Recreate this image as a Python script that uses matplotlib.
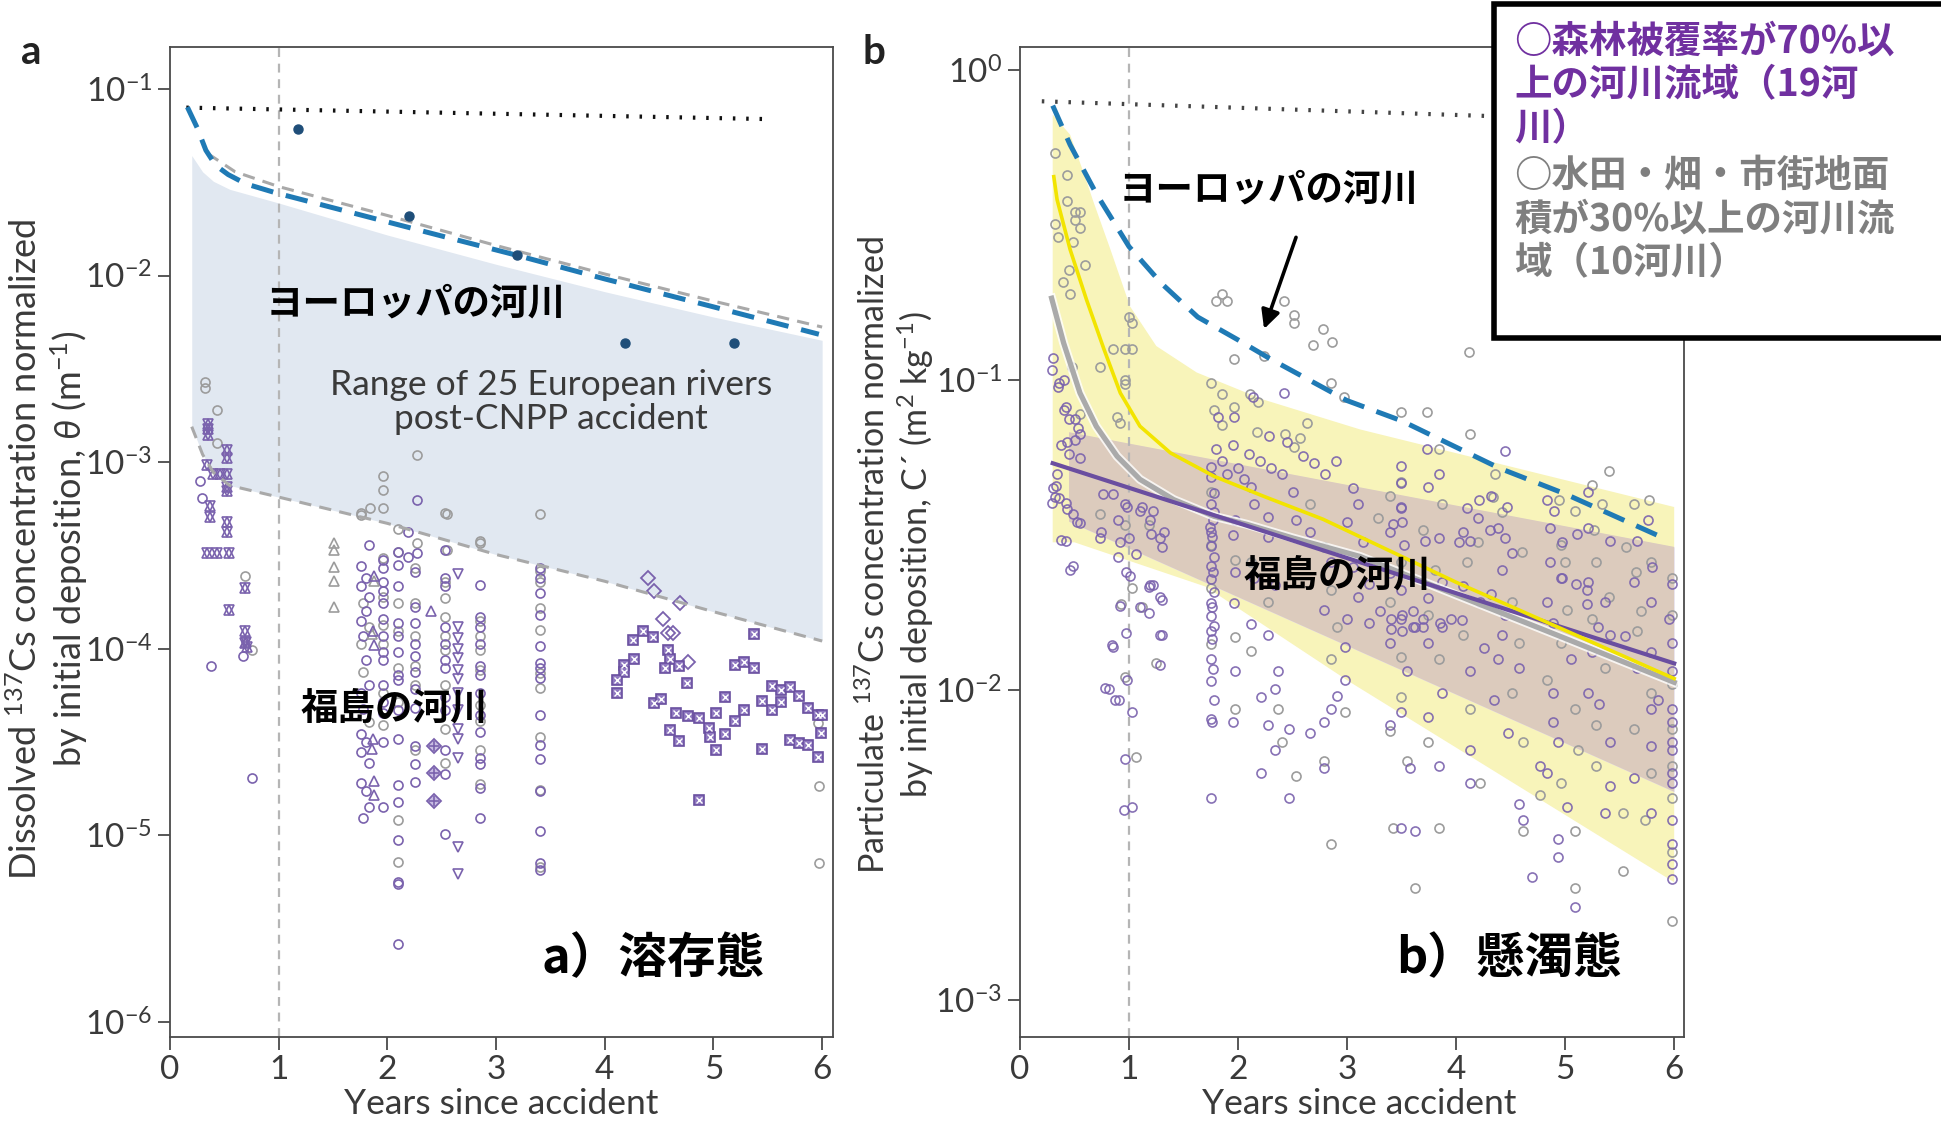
import numpy as np
import matplotlib.pyplot as plt
from matplotlib import font_manager
from matplotlib.patches import Rectangle
from matplotlib.ticker import NullLocator

names = {f.name for f in font_manager.fontManager.ttflist}
LAT = 'Lato' if 'Lato' in names else 'DejaVu Sans'
JP = ['Noto Sans CJK JP', 'DejaVu Sans']
plt.rcParams['font.family'] = [LAT, 'DejaVu Sans']
plt.rcParams['mathtext.fontset'] = 'custom'
plt.rcParams['mathtext.rm'] = LAT
plt.rcParams['mathtext.it'] = LAT + ':italic'

# ---------------- panel a data ----------------
a_fill_x = [0.2, 0.3, 0.4, 0.55, 1.0, 2.0, 3.0, 4.0, 5.0, 6.0]
a_fill_hi = [0.044, 0.036, 0.032, 0.029, 0.0245, 0.0165, 0.0115, 0.0082, 0.006, 0.0045]
a_fill_lo = [0.00155, 0.0011, 0.00088, 0.00075, 0.00065, 0.00047, 0.00032, 0.00023, 0.000158, 0.00011]
a_gray_top_x = [0.35, 0.6, 1.0, 2.0, 3.0, 4.0, 5.0, 6.0]
a_gray_top_y = [0.045, 0.036, 0.030, 0.021, 0.0145, 0.0102, 0.0073, 0.0053]
a_blue_x = [0.16, 0.25, 0.33, 0.42, 0.535, 0.7, 0.98, 1.5, 2.0, 2.5, 3.18, 4.0, 5.0, 5.97]
a_blue_y = [0.080, 0.062, 0.047, 0.039, 0.0348, 0.031, 0.0277, 0.0231, 0.0194, 0.0163, 0.0129, 0.0096, 0.0068, 0.00485]
a_dot_x = [0.15, 5.5]
a_dot_y = [0.0795, 0.069]
a_blue_pts_x = [1.18, 2.2, 3.19, 4.19, 5.19]
a_blue_pts_y = [0.0613, 0.0208, 0.0129, 0.00436, 0.00436]

a_circle_purple = [
    (0.28, 0.00079), (0.29, 0.00064), (0.67, 0.000091), (0.38, 0.000081), (0.75, 0.0000204),
    (2.27, 0.00063), (2.19, 0.000425), (1.83, 0.00036), (2.10, 0.00033), (2.27, 0.000325), (1.96, 0.00030), (2.19, 0.00031),
    (1.76, 0.000278), (1.80, 0.000239), (1.76, 0.000216), (1.83, 0.00019), (1.80, 0.000159), (1.76, 0.00014),
    (1.78, 0.000117), (1.80, 0.0000869), (1.83, 0.0000641), (1.76, 0.0000579), (1.78, 0.0000473), (1.76, 0.0000349),
    (1.80, 0.0000316), (1.76, 0.0000278), (1.83, 0.0000245), (1.76, 0.000019), (1.80, 0.0000172), (1.83, 0.0000141),
    (1.78, 0.0000124),
    (1.96, 0.000271), (1.96, 0.000227), (1.96, 0.000205), (1.96, 0.000176), (1.96, 0.000144), (1.96, 0.000117),
    (1.96, 0.000096), (1.96, 0.000087), (1.96, 0.000064), (1.96, 0.000052), (1.96, 0.000045), (1.96, 0.0000316),
    (1.96, 0.0000141),
    (2.10, 0.00028), (2.10, 0.000216), (2.10, 0.000137), (2.10, 0.000117), (2.10, 0.000096), (2.10, 0.000072),
    (2.10, 0.000068), (2.10, 0.000047), (2.10, 0.000033), (2.10, 0.0000185), (2.10, 0.0000151), (2.10, 0.0000094),
    (2.10, 0.0000056), (2.10, 0.0000055), (2.10, 0.0000026),
    (2.25, 0.000258), (2.25, 0.000168), (2.25, 0.000137), (2.25, 0.000106), (2.25, 0.000091), (2.25, 0.000075),
    (2.25, 0.000061), (2.25, 0.000048), (2.25, 0.00003), (2.25, 0.0000241), (2.25, 0.0000193),
    (2.53, 0.00034), (2.53, 0.000239), (2.53, 0.000216), (2.53, 0.00013), (2.53, 0.000106), (2.53, 0.000087),
    (2.53, 0.000079), (2.53, 0.000055), (2.53, 0.000047), (2.53, 0.0000287), (2.53, 0.0000212), (2.53, 0.0000102),
    (2.85, 0.000221), (2.85, 0.000148), (2.85, 0.00013), (2.85, 0.000106), (2.85, 0.000081), (2.85, 0.000072),
    (2.85, 0.000058), (2.85, 0.000044), (2.85, 0.000036), (2.85, 0.000026), (2.85, 0.0000241), (2.85, 0.0000179),
    (2.85, 0.0000124),
    (3.40, 0.00027), (3.40, 0.000239), (3.40, 0.000199), (3.40, 0.000152), (3.40, 0.000103), (3.40, 0.0000838),
    (3.40, 0.0000787), (3.40, 0.0000695), (3.40, 0.0000443), (3.40, 0.0000305), (3.40, 0.0000256), (3.40, 0.0000172),
    (3.40, 0.0000106), (3.40, 0.0000071), (3.40, 0.0000065),
    (5.96, 0.0000443),
]
a_circle_gray = [
    (0.32, 0.0027), (0.32, 0.0025), (0.43, 0.0019), (0.43, 0.00127), (0.69, 0.000244), (0.75, 0.0000986),
    (1.96, 0.00084), (1.96, 0.00071), (1.96, 0.00057), (1.84, 0.00057), (1.76, 0.00052), (2.27, 0.00109),
    (2.55, 0.00053), (2.27, 0.00037), (2.85, 0.000376), (2.55, 0.00034), (2.10, 0.00044),
    (1.76, 0.000536), (1.78, 0.000176), (1.83, 0.00013), (1.76, 0.000106), (1.78, 0.0000746), (1.83, 0.0000407),
    (1.96, 0.000308), (1.96, 0.00019), (1.96, 0.000134), (1.96, 0.000106), (1.96, 0.000058), (1.96, 0.000039),
    (2.10, 0.000331), (2.10, 0.000176), (2.10, 0.000124), (2.10, 0.000079), (2.10, 0.000052), (2.10, 0.0000121),
    (2.10, 0.0000072),
    (2.25, 0.000271), (2.25, 0.000176), (2.25, 0.000117), (2.25, 0.000081), (2.25, 0.000064), (2.25, 0.0000287),
    (2.53, 0.000536), (2.53, 0.000227), (2.53, 0.000186), (2.53, 0.000148), (2.53, 0.000117), (2.53, 0.000098),
    (2.53, 0.000064), (2.53, 0.000037), (2.53, 0.0000245),
    (2.85, 0.000369), (2.85, 0.000141), (2.85, 0.000117), (2.85, 0.000098), (2.85, 0.000077), (2.85, 0.00005),
    (2.85, 0.000041), (2.85, 0.0000287), (2.85, 0.0000188),
    (3.40, 0.000528), (3.40, 0.00026), (3.40, 0.000229), (3.40, 0.000165), (3.40, 0.000126), (3.40, 0.000074),
    (3.40, 0.0000615), (3.40, 0.0000336), (3.40, 0.0000175), (3.40, 0.0000068),
    (5.97, 0.0000184), (5.97, 0.0000071), (5.96, 0.000040),
]
a_hexagram = [
    (0.35, 0.0016), (0.35, 0.0015), (0.35, 0.0014), (0.52, 0.00116), (0.52, 0.00105), (0.34, 0.00097),
    (0.40, 0.00086), (0.46, 0.00086), (0.52, 0.00086), (0.52, 0.00074), (0.52, 0.0007), (0.37, 0.00058),
    (0.37, 0.00051), (0.52, 0.00048), (0.52, 0.00042), (0.34, 0.000325), (0.43, 0.000325), (0.54, 0.000325),
    (0.69, 0.000211), (0.54, 0.000161), (0.69, 0.000124), (0.69, 0.000107), (0.71, 0.000102), (0.70, 0.000109),
]
a_tri_up_gray = [(1.51, 0.00037), (1.51, 0.00034), (1.51, 0.000275), (1.51, 0.00023), (1.51, 0.000168),
                 (1.88, 0.00023), (1.86, 0.00012)]
a_tri_up_purple = [(1.88, 0.000245), (1.87, 0.000125), (1.88, 0.000105), (1.87, 0.000033), (1.86, 0.000029),
                   (1.88, 0.0000195), (1.88, 0.0000165), (2.40, 0.00016)]
a_tri_down = [(2.65, 0.000251), (2.65, 0.00013), (2.65, 0.000114), (2.65, 0.0001), (2.65, 0.000089),
              (2.65, 0.000077), (2.65, 0.000069), (2.65, 0.000058), (2.65, 0.000047), (2.65, 0.000037),
              (2.65, 0.000033), (2.65, 0.000026), (2.65, 0.0000087), (2.65, 0.0000062)]
a_diamond_open = [(4.40, 0.000239), (4.45, 0.000203), (4.69, 0.000175), (4.54, 0.000144), (4.58, 0.000121),
                  (4.63, 0.000121), (4.77, 0.0000847)]
a_diamond_cross = [(2.43, 0.0000303), (2.43, 0.0000216), (2.43, 0.0000152)]
a_box = [
    (4.35, 0.000125), (4.26, 0.000112), (4.44, 0.000116), (4.27, 0.0000879), (4.18, 0.000082), (4.18, 0.0000746),
    (4.11, 0.0000681), (4.11, 0.0000582), (4.58, 0.000098), (4.60, 0.0000879), (4.55, 0.0000787), (4.68, 0.0000809),
    (4.76, 0.0000659), (4.45, 0.0000511), (4.52, 0.0000537), (4.66, 0.0000452), (4.77, 0.0000437), (4.87, 0.0000425),
    (4.96, 0.0000375), (4.97, 0.0000336), (4.60, 0.0000367), (4.68, 0.0000322), (5.02, 0.0000287), (5.02, 0.0000452),
    (5.11, 0.000055), (5.11, 0.0000348), (5.20, 0.0000411), (5.28, 0.0000471), (5.20, 0.000082), (5.28, 0.0000847),
    (5.37, 0.0000793), (5.37, 0.00012), (5.45, 0.0000526), (5.54, 0.0000632), (5.62, 0.0000603), (5.70, 0.0000622),
    (5.79, 0.000056), (5.54, 0.0000467), (5.62, 0.0000518), (5.45, 0.000029), (5.70, 0.0000325), (5.79, 0.0000312),
    (5.87, 0.0000305), (5.87, 0.0000481), (5.96, 0.0000443), (6.00, 0.0000443), (5.99, 0.0000353), (5.96, 0.0000262),
    (4.87, 0.0000155),
]

# ---------------- panel b data ----------------
b_dot_x = [0.2, 5.5]
b_dot_y = [0.795, 0.69]
b_blue_x = [0.3, 0.46, 0.7, 1.0, 1.3, 1.63, 2.0, 2.3, 3.0, 3.5, 4.4, 5.0, 5.9]
b_blue_y = [0.77, 0.575, 0.40, 0.27, 0.205, 0.16, 0.135, 0.117, 0.086, 0.074, 0.052, 0.043, 0.031]
b_yellow_x = [0.31, 0.34, 0.46, 0.61, 0.77, 0.92, 1.1, 1.38, 1.78, 2.23, 2.78, 3.36, 4.0, 5.0, 6.0]
b_yellow_y = [0.454, 0.383, 0.264, 0.182, 0.126, 0.091, 0.0711, 0.0583, 0.049, 0.0423, 0.0356, 0.0285, 0.0223, 0.0156, 0.0109]
b_grayfit_x = [0.29, 0.4, 0.55, 0.7, 0.89, 1.1, 1.41, 1.78, 2.08, 2.5, 3.12, 4.0, 5.0, 6.0]
b_grayfit_y = [0.184, 0.132, 0.091, 0.071, 0.0569, 0.0479, 0.0412, 0.0364, 0.0343, 0.031, 0.027, 0.0203, 0.0147, 0.0106]
b_purplefit_x = [0.3, 6.0]
b_purplefit_y = [0.054, 0.0122]
b_yband_hi_x = [0.3, 0.46, 0.6, 0.67, 0.83, 1.01, 1.25, 1.62, 2.23, 3.12, 6.0]
b_yband_hi_y = [0.72, 0.62, 0.45, 0.38, 0.264, 0.173, 0.129, 0.106, 0.0867, 0.0694, 0.039]
b_yband_lo_x = [0.3, 0.5, 1.7, 3.03, 6.0]
b_yband_lo_y = [0.03, 0.03, 0.0216, 0.0106, 0.0024]
b_pband_x = [0.45, 6.0]
b_pband_hi = [0.068, 0.029]
b_pband_lo = [0.035, 0.0047]

b_gray = [
    (0.32, 0.54), (0.43, 0.46), (0.43, 0.38), (0.50, 0.35), (0.55, 0.35), (0.50, 0.33), (0.55, 0.31), (0.32, 0.32),
    (0.35, 0.29), (0.49, 0.28), (0.60, 0.236), (0.45, 0.227), (0.39, 0.208), (0.46, 0.19), (1.03, 0.153), (1.00, 0.16),
    (0.85, 0.126), (0.96, 0.126), (1.03, 0.126), (0.73, 0.11), (0.48, 0.11), (0.96, 0.10), (0.96, 0.097), (0.89, 0.076),
    (0.92, 0.073), (0.55, 0.078),
    (1.80, 0.18), (1.90, 0.18), (1.85, 0.19), (1.96, 0.117), (1.75, 0.098), (1.85, 0.09), (1.96, 0.082), (1.78, 0.08),
    (1.85, 0.072), (2.11, 0.09), (2.18, 0.085), (2.42, 0.18), (2.51, 0.163), (2.51, 0.153), (2.78, 0.146), (2.69, 0.13),
    (2.86, 0.133), (2.63, 0.073), (2.24, 0.12), (2.85, 0.098), (2.97, 0.088), (2.17, 0.068), (2.43, 0.067), (2.57, 0.065),
    (2.51, 0.061),
    (4.12, 0.123), (3.49, 0.079), (3.73, 0.079), (4.13, 0.067), (3.84, 0.06), (3.49, 0.047), (4.36, 0.05), (4.34, 0.042),
    (5.40, 0.051), (5.25, 0.046), (5.77, 0.041), (4.94, 0.041), (5.09, 0.038), (3.28, 0.036), (3.70, 0.033), (4.20, 0.030),
    (4.60, 0.028), (5.26, 0.033), (5.56, 0.029), (5.00, 0.026), (5.65, 0.024), (5.98, 0.023), (5.40, 0.020), (5.70, 0.018),
    (0.73, 0.037), (0.96, 0.034), (1.18, 0.034), (1.03, 0.0214), (0.93, 0.019), (1.12, 0.0186), (1.25, 0.0122),
    (0.96, 0.011), (1.06, 0.0061),
    (1.75, 0.0437), (1.75, 0.0295), (1.75, 0.0214), (1.75, 0.0141), (1.97, 0.0263), (1.97, 0.0148), (1.97, 0.0087),
    (2.12, 0.026), (2.27, 0.0192), (2.12, 0.0134), (2.37, 0.0087), (2.40, 0.0068), (2.53, 0.0053), (2.66, 0.040),
    (2.79, 0.0289), (2.85, 0.021), (2.91, 0.016), (2.85, 0.0126), (2.98, 0.0085), (2.79, 0.0059), (2.85, 0.0032),
    (3.39, 0.0424), (3.49, 0.026), (3.39, 0.0192), (3.49, 0.0128), (3.49, 0.0095), (3.39, 0.0074), (3.55, 0.0059),
    (3.62, 0.0023), (3.42, 0.0036),
    (3.87, 0.040), (3.81, 0.0245), (3.74, 0.0175), (3.84, 0.0126), (3.74, 0.0068), (3.84, 0.0036),
    (4.10, 0.026), (4.06, 0.0151), (4.13, 0.0087), (4.22, 0.0050),
    (4.42, 0.0375), (4.51, 0.0192), (4.58, 0.0142), (4.51, 0.0098), (4.61, 0.0068), (4.77, 0.0046), (4.61, 0.0035),
    (4.96, 0.0294), (5.02, 0.0181), (4.96, 0.0142), (4.83, 0.0108), (5.09, 0.0087), (5.12, 0.0064), (4.96, 0.0050),
    (5.09, 0.0035), (5.09, 0.0023),
    (5.34, 0.040), (5.28, 0.026), (5.25, 0.017), (5.37, 0.0118), (5.28, 0.0077), (5.28, 0.0057), (5.53, 0.0040),
    (5.63, 0.040), (5.79, 0.026), (5.66, 0.0155), (5.79, 0.0098), (5.63, 0.0075), (5.79, 0.0054), (5.73, 0.0038),
    (5.53, 0.0026),
    (5.98, 0.0175), (5.98, 0.0105), (5.98, 0.0075), (5.98, 0.0057), (5.98, 0.0045), (5.98, 0.0030), (5.98, 0.0018),
]
b_purple = [
    (0.30, 0.118), (0.29, 0.108), (0.36, 0.098), (0.40, 0.100), (0.35, 0.095), (0.42, 0.082), (0.40, 0.080),
    (0.45, 0.075), (0.50, 0.075), (0.55, 0.067), (0.53, 0.070), (0.38, 0.062), (0.43, 0.063), (0.50, 0.064),
    (0.45, 0.058), (0.55, 0.056), (0.34, 0.0497), (0.30, 0.045), (0.32, 0.042), (0.29, 0.0403), (0.42, 0.0403),
    (0.43, 0.0383), (0.49, 0.037), (0.52, 0.0348), (0.38, 0.0306), (0.46, 0.0245), (0.33, 0.0457), (0.36, 0.0417),
    (0.55, 0.0347), (0.42, 0.0302), (0.49, 0.0251),
    (0.73, 0.031), (0.76, 0.043), (0.85, 0.043), (0.96, 0.040), (0.98, 0.039), (1.10, 0.038), (1.22, 0.038),
    (1.28, 0.031), (1.20, 0.032), (1.30, 0.029), (0.92, 0.030), (1.00, 0.031), (0.74, 0.0324), (0.90, 0.0355),
    (1.12, 0.0389), (1.19, 0.0355), (1.32, 0.0324), (1.06, 0.0275), (0.90, 0.0269), (0.97, 0.024), (1.19, 0.0219),
    (1.28, 0.020), (1.01, 0.0233), (1.18, 0.0216), (1.22, 0.0219), (1.30, 0.0196), (0.92, 0.0187), (1.10, 0.0185),
    (1.18, 0.0178), (0.97, 0.0153), (1.30, 0.0151), (0.85, 0.0138), (0.84, 0.014), (1.28, 0.0151), (1.28, 0.0121),
    (0.98, 0.0108), (0.82, 0.0101), (0.78, 0.0102), (0.87, 0.0093), (0.91, 0.0093), (1.03, 0.0085), (0.96, 0.006),
    (1.03, 0.0042), (0.95, 0.0041),
    (1.75, 0.0527), (1.75, 0.0489), (1.78, 0.0434), (1.75, 0.040), (1.77, 0.0355), (1.75, 0.0324), (1.78, 0.0375),
    (1.74, 0.0337), (1.76, 0.0313), (1.75, 0.0291), (1.78, 0.0269), (1.75, 0.0251), (1.77, 0.024), (1.75, 0.0229),
    (1.78, 0.0208), (1.75, 0.0191), (1.76, 0.0186), (1.75, 0.0174), (1.78, 0.0161), (1.75, 0.0155), (1.76, 0.0146),
    (1.75, 0.0126), (1.77, 0.0117), (1.75, 0.0107), (1.78, 0.0093), (1.75, 0.0081), (1.76, 0.0079), (1.75, 0.0045),
    (1.97, 0.0355), (1.95, 0.0316), (1.97, 0.024), (1.96, 0.0191), (1.97, 0.0115), (1.95, 0.0079),
    (1.80, 0.060), (1.85, 0.055), (1.90, 0.050), (2.05, 0.048), (1.95, 0.062), (2.10, 0.058), (2.20, 0.055),
    (2.30, 0.052), (2.40, 0.050), (2.60, 0.057), (2.70, 0.054), (2.80, 0.050), (2.90, 0.055), (2.00, 0.052),
    (2.14, 0.088), (2.42, 0.091), (2.28, 0.066), (2.45, 0.063), (1.96, 0.076), (1.82, 0.076),
    (2.12, 0.0451), (2.15, 0.040), (2.27, 0.0363), (2.27, 0.0313), (2.15, 0.0231), (2.34, 0.0218), (2.27, 0.0151),
    (2.12, 0.0163), (2.37, 0.0115), (2.34, 0.0101), (2.21, 0.0095), (2.27, 0.0077), (2.47, 0.0075), (2.34, 0.0064),
    (2.21, 0.0054), (2.47, 0.0045),
    (2.50, 0.0437), (2.53, 0.0353), (2.66, 0.0323), (2.85, 0.026), (2.79, 0.0181), (2.98, 0.0138), (2.98, 0.0108),
    (2.91, 0.0096), (2.85, 0.0087), (2.79, 0.0079), (2.66, 0.0073), (2.79, 0.0056),
    (3.05, 0.045), (3.10, 0.040), (3.00, 0.035), (3.15, 0.030), (3.05, 0.025), (3.20, 0.022), (3.10, 0.020),
    (3.00, 0.017), (3.49, 0.0465), (3.49, 0.0387), (3.42, 0.0343), (3.39, 0.0323), (3.52, 0.0294), (3.39, 0.0238),
    (3.49, 0.021), (3.49, 0.017), (3.62, 0.016), (3.39, 0.0142), (3.55, 0.0115), (3.49, 0.0085), (3.39, 0.0077),
    (3.58, 0.0056), (3.49, 0.0036), (3.62, 0.0035), (3.49, 0.053), (3.50, 0.035), (3.49, 0.039),
    (3.30, 0.018), (3.40, 0.017), (3.50, 0.0175), (3.60, 0.018), (3.70, 0.017), (3.60, 0.0160), (3.40, 0.0158),
    (3.50, 0.0155), (3.70, 0.016), (3.20, 0.0165), (3.85, 0.0165), (3.95, 0.017), (4.05, 0.0168),
    (3.74, 0.0451), (3.73, 0.060), (3.84, 0.050), (3.71, 0.0303), (3.84, 0.031), (3.87, 0.0224), (3.74, 0.0198),
    (3.87, 0.016), (3.74, 0.0142), (3.87, 0.0098), (3.74, 0.0082), (3.84, 0.0057), (4.03, 0.030),
    (4.10, 0.0387), (4.06, 0.0323), (4.13, 0.0303), (4.06, 0.0217), (4.22, 0.0192), (4.26, 0.0137), (4.13, 0.0115),
    (4.13, 0.0064), (4.13, 0.0050), (4.21, 0.041), (4.20, 0.036),
    (4.32, 0.0424), (4.38, 0.0333), (4.51, 0.0277), (4.42, 0.0245), (4.32, 0.0204), (4.45, 0.0175), (4.42, 0.0151),
    (4.38, 0.0126), (4.58, 0.0118), (4.35, 0.0093), (4.48, 0.0073), (4.77, 0.0057), (4.58, 0.0043), (4.61, 0.0038),
    (4.70, 0.0025), (4.45, 0.059), (4.47, 0.039), (4.31, 0.033), (4.45, 0.031),
    (4.83, 0.0411), (4.86, 0.0333), (4.86, 0.026), (4.96, 0.0231), (4.83, 0.0192), (4.89, 0.0165), (5.05, 0.0126),
    (4.89, 0.0098), (4.89, 0.0079), (4.93, 0.0068), (4.83, 0.0054), (5.02, 0.0042), (4.93, 0.0033), (4.93, 0.0029),
    (5.09, 0.0020), (4.90, 0.038), (4.97, 0.030), (5.11, 0.032), (4.97, 0.023), (5.10, 0.022),
    (5.21, 0.0437), (5.21, 0.0333), (5.41, 0.0303), (5.21, 0.0224), (5.37, 0.0192), (5.41, 0.0151), (5.25, 0.0133),
    (5.21, 0.0098), (5.31, 0.0090), (5.41, 0.0068), (5.41, 0.0049), (5.37, 0.0040), (5.20, 0.021), (5.20, 0.019),
    (5.30, 0.016), (5.55, 0.015),
    (5.76, 0.0353), (5.66, 0.0303), (5.63, 0.0224), (5.79, 0.0192), (5.79, 0.0133), (5.66, 0.0118), (5.79, 0.0087),
    (5.85, 0.0093), (5.79, 0.0066), (5.63, 0.0052), (5.79, 0.0040), (5.80, 0.025), (5.95, 0.017),
    (5.98, 0.022), (5.98, 0.0142), (5.98, 0.0115), (5.98, 0.0087), (5.98, 0.0079), (5.98, 0.0068), (5.98, 0.0064),
    (5.98, 0.0054), (5.98, 0.0050), (5.98, 0.0038), (5.98, 0.0032), (5.98, 0.00275), (5.98, 0.00246),
]

legend_purple = ['○森林被覆率が70%以', '上の河川流域（19河', '川）']
legend_gray = ['○水田・畑・市街地面', '積が30%以上の河川流', '域（10河川）']

# ---------------- styling ----------------
W, H = 1941, 1123
PUR = '#7a62ad'
GRY = '#9c9c9c'
BLUE = '#1f7ab5'
SPINE = '#4a4a4a'
TXT = '#3a3a3a'


def fx(x):
    return x / W


def fy(y):
    return 1 - y / H


def xy(pts):
    a = np.array(pts)
    return a[:, 0], a[:, 1]


def style(ax, xmax, ylo, yhi, yticks):
    ax.set_yscale('log')
    ax.set_xlim(0, xmax)
    ax.set_ylim(ylo, yhi)
    ax.set_xticks(range(7))
    ax.set_yticks(yticks)
    ax.yaxis.set_minor_locator(NullLocator())
    ax.tick_params(direction='out', length=9, width=1.3, color=SPINE, labelcolor=TXT, labelsize=24, pad=4)
    for s in ax.spines.values():
        s.set_color(SPINE)
        s.set_linewidth(1.3)
    ax.axvline(1, color='#b5b5b5', lw=1.6, ls=(0, (4, 3)), zorder=1.5)


fig = plt.figure(figsize=(W / 100, H / 100), dpi=100)
ax_a = fig.add_axes([fx(170), fy(1037), 663 / W, 990 / H])
ax_b = fig.add_axes([fx(1020), fy(1037), 664 / W, 990 / H])

# ---------- panel a ----------
ax = ax_a
style(ax, 6.1, 8.3e-7, 0.168, [1e-6, 1e-5, 1e-4, 1e-3, 1e-2, 1e-1])
ax.fill_between(a_fill_x, a_fill_lo, a_fill_hi, color='#e1e8f1', lw=0, zorder=1)
ax.plot(a_fill_x, a_fill_lo, color='#a9a9a9', lw=2.2, ls=(0, (4, 2.7)), zorder=3)
ax.plot(a_gray_top_x, a_gray_top_y, color='#a9a9a9', lw=2.2, ls=(0, (4, 2.7)), zorder=3)
ax.plot(a_blue_x, a_blue_y, color=BLUE, lw=3.6, ls=(0, (4.5, 2.6)), zorder=3.2)
ax.plot(a_dot_x, a_dot_y, color='#111111', lw=3, ls=(0, (0.6, 2.6)), zorder=3)
ax.plot(a_blue_pts_x, a_blue_pts_y, 'o', color='#1f4e79', ms=6.5, zorder=3.3)

mk = dict(ls='none', mfc='none', ms=6.5, mew=1.2, zorder=2)
ax.plot(*xy(a_circle_gray), 'o', mec=GRY, **mk)
ax.plot(*xy(a_circle_purple), 'o', mec=PUR, **mk)
ax.plot(*xy(a_hexagram), '^', mec=PUR, **mk)
ax.plot(*xy(a_hexagram), 'v', mec=PUR, **mk)
ax.plot(*xy(a_tri_up_gray), '^', mec=GRY, **mk)
ax.plot(*xy(a_tri_up_purple), '^', mec=PUR, **mk)
ax.plot(*xy(a_tri_down), 'v', mec=PUR, **mk)
ax.plot(*xy(a_diamond_open), 'D', mec=PUR, ls='none', mfc='none', ms=7.5, mew=1.3, zorder=2)
ax.plot(*xy(a_diamond_cross), 'D', mec=PUR, mfc='#c9bde3', ls='none', ms=7, mew=1.3, zorder=2)
ax.plot(*xy(a_diamond_cross), '+', mec=PUR, ls='none', ms=7, mew=1.2, zorder=2.1)
ax.plot(*xy(a_box), 's', mec='#6a50a0', mfc='#8f78c0', ls='none', ms=7.5, mew=1.2, zorder=2)
ax.plot(*xy(a_box), 'x', mec='white', ls='none', ms=4, mew=1.0, zorder=2.1)

# ---------- panel b ----------
ax = ax_b
style(ax, 6.09, 7.6e-4, 1.19, [1e-3, 1e-2, 1e-1, 1])
yb_x = b_yband_hi_x + b_yband_lo_x[::-1]
yb_y = b_yband_hi_y + b_yband_lo_y[::-1]
ax.fill(yb_x, yb_y, color='#f8f4ba', lw=0, zorder=1)
pb = ax.fill_between(b_pband_x, b_pband_lo, b_pband_hi, color='#e4dcef', lw=0, zorder=1.1)
ov = ax.fill(yb_x, yb_y, color='#dccbbd', lw=0, zorder=1.2)[0]
ov.set_clip_path(pb.get_paths()[0], ax.transData)

ax.plot(*xy(b_gray), 'o', mec=GRY, **mk)
ax.plot(*xy(b_purple), 'o', mec=PUR, alpha=0.9, **mk)

ax.plot(b_dot_x, b_dot_y, color='#444444', lw=3, ls=(0, (0.6, 2.6)), zorder=3)
ax.plot(b_blue_x, b_blue_y, color=BLUE, lw=3.6, ls=(0, (4.5, 2.6)), zorder=3.2)
ax.plot(b_grayfit_x, b_grayfit_y, color='white', lw=6.5, alpha=0.8, zorder=3, solid_joinstyle='round')
ax.plot(b_grayfit_x, b_grayfit_y, color='#aaaaaa', lw=3.8, zorder=3.05, solid_joinstyle='round')
ax.plot(b_purplefit_x, b_purplefit_y, color='#6a4ea0', lw=3, zorder=3.1)
ax.plot(b_yellow_x, b_yellow_y, color='#f2e400', lw=2.6, zorder=3.15, solid_joinstyle='round')
ax.annotate('', xy=(2.23, 0.1436), xytext=(2.54, 0.295),
            arrowprops=dict(arrowstyle='-|>', color='black', lw=2.6, mutation_scale=28), zorder=6)

# ---------- texts ----------
fig.text(fx(31), fy(52), 'a', fontsize=29, fontweight='bold', ha='center', va='center', color='#222')
fig.text(fx(874), fy(52), 'b', fontsize=29, fontweight='bold', ha='center', va='center', color='#222')

fig.text(fx(49), fy(549), 'Dissolved $^{137}$Cs concentration normalized\nby initial deposition, $\\theta$ (m$^{-1}$)',
         rotation=90, ha='center', va='center', ma='center', fontsize=26, color=TXT, linespacing=1.15)
fig.text(fx(896), fy(555), 'Particulate $^{137}$Cs concentration normalized\nby initial deposition, C\u00b4 (m$^{2}$ kg$^{-1}$)',
         rotation=90, ha='center', va='center', ma='center', fontsize=24.5, color=TXT, linespacing=1.15)
fig.text(fx(501), fy(1104), 'Years since accident', ha='center', va='center', fontsize=25.5, color=TXT)
fig.text(fx(1359), fy(1104), 'Years since accident', ha='center', va='center', fontsize=25.5, color=TXT)

fig.text(fx(551), fy(402), 'Range of 25 European rivers\npost-CNPP accident', ha='center', va='center',
         fontsize=25.5, color=TXT, linespacing=1.1)

jp = dict(family=JP, fontweight='bold', color='black', va='center', zorder=7)
fig.text(fx(416), fy(303), 'ヨーロッパの河川', fontsize=27, ha='center', **jp)
fig.text(fx(394), fy(709), '福島の河川', fontsize=27, ha='center', **jp)
fig.text(fx(541), fy(959), 'a）溶存態', fontsize=35, ha='left', **jp)
fig.text(fx(1269), fy(189), 'ヨーロッパの河川', fontsize=27, ha='center', **jp)
fig.text(fx(1337), fy(576), '福島の河川', fontsize=27, ha='center', **jp)
fig.text(fx(1396), fy(959), 'b）懸濁態', fontsize=35, ha='left', **jp)

# legend box
fig.add_artist(Rectangle((fx(1494), fy(338)), (W - 1494 + 20) / W, 334 / H, transform=fig.transFigure,
                         facecolor='white', edgecolor='black', lw=4, zorder=8))
for i, s in enumerate(legend_purple):
    fig.text(fx(1514), fy(41 + 44 * i), s, fontsize=27, family=JP, fontweight='bold', color='#7030a0',
             va='center', ha='left', zorder=9)
for i, s in enumerate(legend_gray):
    fig.text(fx(1514), fy(175 + 44 * i), s, fontsize=27, family=JP, fontweight='bold', color='#7f7f7f',
             va='center', ha='left', zorder=9)

fig.savefig('out.png', dpi=100)
